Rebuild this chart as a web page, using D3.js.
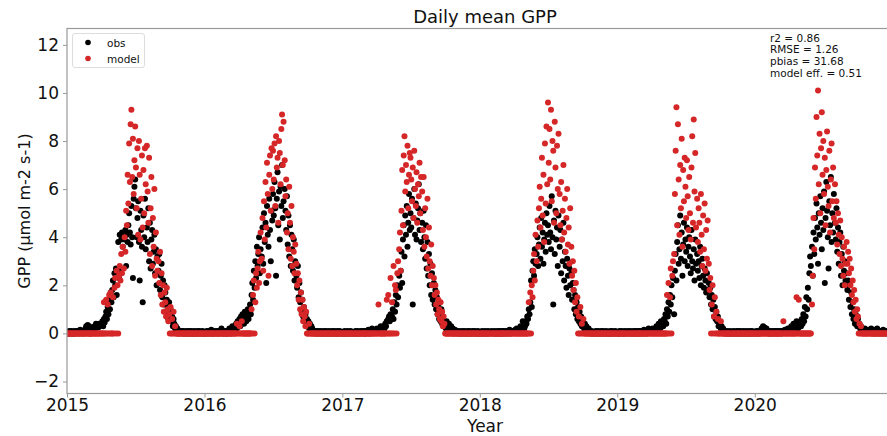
<!DOCTYPE html>
<html>
<head>
<meta charset="utf-8">
<title>Daily mean GPP</title>
<script src="https://d3js.org/d3.v7.min.js"></script>
<style>
  body { margin: 0; background: #fff; }
  svg { display: block; font-family: 'DejaVu Sans', sans-serif; }
</style>
</head>
<body>
<div id="chart"></div>
<script>
// each year: 12 month rows, values for days 1,3,5,...,29
const years = [2015, 2016, 2017, 2018, 2019, 2020];
const zeroMonth = [0,0,0,0,0,0,0,0,0,0,0,0,0,0,0];

const obs2015 = [
  [0,.05,0,.1,0,.05,.1,0,.05,0,.1,.05,0,.1,.05],
  [.1,0,.15,.1,.05,.1,0,.05,.1,.2,.3,.25,.35,.2,.3],
  [.1,.05,0,.1,.05,.2,.1,.3,.2,.4,.3,.35,.25,.4,.3],
  [.4,.35,.5,.3,.6,.45,.7,.9,.6,1.1,.8,1.4,1.0,1.7,1.3],
  [1.8,2.2,1.5,2.5,2.0,2.7,1.6,2.4,3.8,2.3,4.1,2.6,3.9,4.2,3.6],
  [4.0,3.9,4.3,2.8,4.1,3.8,4.5,5.0,4.2,3.7,5.3,4.0,2.3,5.6,6.1],
  [6.4,5.2,4.0,4.8,5.5,3.8,2.2,5.1,4.3,3.6,1.3,4.9,4.0,5.6,3.5],
  [4.4,3.8,5.2,3.0,4.6,2.7,3.9,4.3,2.9,3.4,4.1,2.5,3.5,2.0,3.2],
  [2.6,3.3,1.8,2.4,2.9,1.5,2.2,1.2,2.0,1.7,0.9,1.4,1.1,0.6,1.3],
  [.8,1.0,.5,.7,.3,.6,.4,.2,.3,.1,.2,.1,0,.1,.05],
  [.1,0,.05,.1,0,.05,0,.1,.05,0,.1,0,.05,.1,0],
  [0,.05,.1,0,.05,0,.1,.05,0,.1,.05,0,.05,.1,0]
];
const model2015 = [
  zeroMonth, zeroMonth, zeroMonth,
  [0,0,0,0,1.3,0,0,1.4,0,1.2,0,1.6,0,1.7,0],
  [0,1.5,0,1.9,2.3,0,2.6,2.0,0,2.4,2.8,2.2,3.3,2.5,3.6],
  [2.7,4.0,3.4,5.1,4.5,6.6,5.4,7.9,6.3,8.7,9.3,6.5,8.1,5.8,7.2],
  [8.6,6.9,5.2,7.7,4.1,8.0,6.6,3.9,5.6,7.4,4.4,6.8,5.0,7.7,6.2],
  [7.8,5.9,4.6,7.3,3.3,5.2,6.5,2.8,4.8,3.6,6.0,2.4,4.2,3.1,2.6],
  [3.0,2.1,3.4,1.6,2.5,1.2,2.0,0.9,1.7,1.3,0.7,1.9,1.0,0.5,0.8],
  [0,1.1,0,0.6,0,0.9,0,0.3,0,0,0,0,0,0,0],
  zeroMonth, zeroMonth
];

const obs2016 = [
  [0,.05,0,.1,.05,0,.1,.05,0,.15,.05,0,.1,0,.05],
  [.1,0,.05,.1,0,.05,.1,.2,.05,0,.1,.05,0,.1,.05],
  [0,.1,.05,.2,.1,0,.15,.3,.1,.2,.05,.3,.4,.2,.5],
  [.4,.6,.3,.7,.5,.8,.6,.4,.9,.7,.5,.8,1.0,.6,.9],
  [1.2,.8,1.6,2.1,1.4,2.6,1.9,3.0,2.3,3.6,2.8,3.3,4.0,2.5,3.5],
  [3.2,4.4,2.9,5.0,3.8,4.6,2.1,5.3,4.1,3.6,5.6,4.3,3.0,5.1,4.7],
  [5.8,4.9,6.3,5.2,2.4,5.6,6.7,4.5,5.9,3.9,6.1,5.3,7.0,4.8,5.5],
  [6.0,5.1,4.3,5.7,3.7,4.9,3.2,4.5,2.8,4.1,3.5,2.6,3.9,2.2,3.0],
  [2.4,1.9,2.8,1.5,2.1,1.3,1.7,0.9,1.4,0.7,1.1,0.5,0.8,0.4,0.6],
  [.3,.5,.2,.4,.1,.3,.2,.1,.05,.1,0,.1,.05,0,.1],
  [0,.05,.1,0,.05,0,.1,0,.05,.1,0,.05,0,.1,0],
  [.05,0,.1,0,.05,.1,0,.05,0,.1,0,.05,.1,0,.05]
];
const model2016 = [
  zeroMonth, zeroMonth,
  [0,0,0,0,0,0,0,0,0,0,0,0,0,0.4,0],
  [0,0.3,0,0,0.5,0,0,0,0,0,0,0,0,0,0],
  [0,0,1.0,0,1.6,2.2,0,1.3,2.5,1.9,2.7,3.4,2.1,3.0,4.2],
  [3.1,4.8,2.6,5.5,3.9,6.3,4.4,7.1,5.8,2.4,6.6,7.4,5.1,7.7,6.0],
  [7.6,6.4,7.9,5.3,8.2,6.9,7.3,4.6,8.0,7.5,6.2,8.5,9.1,7.0,8.8],
  [7.2,5.7,6.4,4.2,5.0,3.5,6.1,4.6,3.1,5.3,2.8,4.0,3.4,2.5,3.7],
  [2.9,2.0,2.5,1.4,2.2,1.0,1.7,0.8,1.4,0.5,1.1,0.7,0.3,0.9,0],
  [0,0,0.4,0,0,0,0,0,0,0,0,0,0,0,0],
  zeroMonth, zeroMonth
];

const obs2017 = [
  [0,.05,0,.1,0,.05,0,.1,.05,0,.05,.1,0,.05,0],
  [.05,0,.1,0,.05,.1,0,.05,0,.1,.05,0,.1,.05,0],
  [.1,.05,0,.1,.05,.15,.1,0,.1,.05,.2,.1,.05,.1,.15],
  [.1,.2,.05,.15,.1,.2,.3,.1,.2,.15,.3,.2,.4,.3,.5],
  [.5,.6,.7,.5,.8,.6,.7,1.0,.6,1.3,.9,1.6,1.2,2.0,1.5],
  [2.4,1.9,2.6,3.4,2.1,3.9,4.5,3.2,4.9,4.1,5.3,3.6,4.6,5.8,4.3],
  [5.0,4.4,5.6,1.2,4.8,6.0,4.1,5.4,3.9,4.7,5.2,6.2,4.3,5.0,3.8],
  [4.6,3.5,5.1,4.0,3.1,4.5,2.7,3.8,2.4,3.3,2.0,2.9,1.6,2.5,1.4],
  [2.1,1.2,1.8,1.0,1.5,.8,1.2,.6,.9,.5,1.0,.4,.7,.3,.5],
  [.4,.2,.5,.3,.1,.4,.2,.1,.3,.05,.2,.1,0,.15,.05],
  [.1,0,.05,.1,0,.05,0,.1,.05,0,.1,0,.05,0,.1],
  [0,.05,.1,0,.05,0,.1,.05,0,.1,.05,0,.05,.1,0]
];
const model2017 = [
  zeroMonth, zeroMonth, zeroMonth,
  [0,0,0,1.2,0,0,0,0,0,0,0,0,0,0,1.4],
  [0,1.6,0,0,2.3,0,1.3,0,2.8,0,2.0,1.8,0,2.5,3.0],
  [3.5,4.2,2.6,5.1,6.8,4.5,7.4,8.2,5.9,7.0,6.3,7.8,5.2,6.6,7.5],
  [7.3,6.4,5.5,6.9,4.8,7.6,6.0,5.3,6.7,4.6,6.2,5.7,7.1,5.0,6.5],
  [5.9,4.3,6.5,3.6,5.2,4.0,3.2,5.6,2.7,4.4,3.0,2.4,3.7,2.0,2.8],
  [2.3,1.6,2.0,1.2,1.7,0.8,1.4,1.0,0.6,1.3,0.5,0.9,0.3,0.7,0.4],
  zeroMonth, zeroMonth, zeroMonth
];

const obs2018 = [
  [0,.05,0,.1,.05,0,.05,.1,0,.05,0,.1,.05,0,.05],
  [.1,.05,0,.05,.1,0,.05,0,.1,.05,0,.1,0,.05,.1],
  [0,.05,.1,0,.05,.1,.05,0,.1,.05,.15,0,.1,.05,.1],
  [.1,.05,.15,.1,.2,.05,.1,.2,.15,.3,.1,.2,.5,.3,.2],
  [.3,.5,.4,.7,.6,1.0,.8,1.3,2.2,1.1,2.6,3.0,2.4,3.5,2.9],
  [3.3,4.0,2.8,3.7,4.4,3.1,4.8,3.6,4.2,2.9,3.9,4.6,3.4,5.0,4.1],
  [4.5,3.8,5.3,4.2,3.5,5.7,4.0,1.2,4.7,3.3,5.1,3.9,4.4,2.8,4.9],
  [3.6,4.3,2.5,3.9,3.0,4.6,2.2,3.4,2.8,1.9,3.1,2.4,1.6,2.7,2.0],
  [2.5,1.4,2.1,1.8,1.0,1.6,0.8,1.3,0.6,1.1,0.5,0.9,0.4,0.7,0.3],
  [.5,.3,.2,.4,.1,.3,.15,.1,.2,.05,.1,0,.1,.05,0],
  [.05,0,.1,0,.05,.1,0,.05,0,.1,0,.05,.1,0,.05],
  [0,.1,.05,0,.05,0,.1,0,.05,.1,0,.05,0,.1,.05]
];
const model2018 = [
  zeroMonth, zeroMonth, zeroMonth, zeroMonth,
  [0,0,0,0,0,1.3,0,1.7,0,2.0,1.5,2.6,3.3,2.2,4.1],
  [3.0,4.7,3.6,5.2,6.1,4.4,5.6,7.3,4.9,6.6,3.8,7.9,5.4,8.6,6.2],
  [9.6,7.1,8.5,6.4,9.3,5.5,8.0,7.6,4.6,8.8,6.9,5.0,7.8,6.0,8.3],
  [5.8,4.5,6.3,3.9,5.1,7.0,4.2,5.6,3.4,4.8,6.0,3.7,4.4,2.9,5.2],
  [3.6,2.4,3.0,1.8,2.6,1.3,2.1,0.9,1.5,0,0.7,0,1.1,0,0.4],
  [0,0.6,0,0,0,0,0,0,0,0,0,0,0,0,0],
  zeroMonth, zeroMonth
];

const obs2019 = [
  [0,.05,0,.1,0,.05,.1,0,.05,0,.1,.05,0,.05,.1],
  [0,.05,.1,0,.05,0,.1,.05,0,.1,0,.05,.1,0,.05],
  [.1,0,.05,.1,.05,0,.15,.05,.1,0,.05,.1,.2,.05,.1],
  [.15,.1,.2,.05,.15,.1,.2,.3,.1,.2,.4,.3,.2,.5,.3],
  [.4,.3,.6,.5,.8,.4,1.0,.7,1.3,.9,1.6,1.2,2.0,1.5,2.3],
  [0.8,2.6,3.3,2.2,3.8,4.5,2.9,3.5,4.9,3.1,4.2,2.4,3.7,4.6,3.0],
  [3.9,3.4,4.4,2.8,3.6,4.0,3.2,2.5,4.3,3.0,2.7,3.5,2.2,3.9,2.9],
  [3.3,2.6,3.0,2.3,3.6,2.0,2.8,3.1,2.4,1.9,2.7,2.2,1.7,2.5,1.8],
  [2.1,1.5,1.9,1.2,1.6,1.0,1.4,0.7,1.1,0.6,0.9,0.5,0.7,0.3,0.5],
  [.4,.2,.3,.1,.2,.05,.1,0,.05,.1,0,.05,0,.1,0],
  [.05,0,.1,0,.05,0,.1,.05,0,.1,0,.05,.1,0,.05],
  [0,.1,.05,0,.05,.1,0,.05,0,.1,0,.05,.1,0,.05]
];
const model2019 = [
  zeroMonth, zeroMonth, zeroMonth, zeroMonth,
  [0,0,0,0,0,0,1.6,0,2.1,0,1.5,2.7,0,2.4,3.0],
  [3.3,5.8,7.6,9.4,4.5,8.7,6.4,4.1,7.0,5.2,8.1,3.6,6.8,5.5,7.3],
  [6.1,4.8,7.2,5.7,4.3,6.5,5.0,3.9,6.9,8.2,4.6,8.9,5.9,7.5,4.4],
  [5.6,3.8,5.2,4.6,3.4,5.8,4.1,2.8,4.9,3.5,5.4,2.6,4.3,3.1,4.7],
  [2.9,1.8,2.3,0,1.2,2.0,0,0.7,1.5,0,0.9,0,0.6,0,0],
  [0,0.5,0,0,0,0,0,0,0,0,0,0,0,0,0],
  zeroMonth, zeroMonth
];

const obs2020 = [
  [0,.05,.1,0,.05,.1,0,.05,.1,.2,.05,.3,.1,.25,.05],
  [.2,.1,.05,0,.1,.05,0,.1,.05,0,.1,.05,.1,0,.05],
  [.1,.05,0,.1,.05,.1,0,.05,.1,.05,.15,.1,.05,.1,.2],
  [.1,.2,.15,.3,.1,.25,.4,.2,.3,.15,.5,.3,.2,.4,.3],
  [.5,.3,.6,.4,.8,.5,1.1,.7,1.5,1.0,1.9,1.4,2.5,3.2,2.8],
  [3.6,2.4,4.2,3.3,4.8,3.9,5.4,4.4,2.9,5.0,4.1,5.7,4.6,3.5,5.2],
  [4.3,5.9,2.1,4.8,6.3,5.1,4.0,2.7,5.5,4.5,6.5,3.8,5.0,4.2,5.8],
  [4.6,3.9,5.2,3.4,4.4,2.9,3.8,4.2,2.4,3.3,2.0,3.6,2.6,3.0,2.2],
  [2.5,1.8,2.2,1.4,2.0,1.1,1.7,0.8,1.3,0.6,1.0,0.4,0.8,0.5,0.3],
  [.6,.3,.4,.2,.3,.1,.2,.15,.1,.2,.05,.1,.15,.05,.1],
  [.1,.05,.2,.1,0,.15,.05,.1,0,.1,.2,.05,.1,0,.1],
  [.05,.1,0,.15,.05,.1,0,.05,.1,0,.05,.1,0,.05,0]
];
const model2020 = [
  zeroMonth, zeroMonth,
  [0,0,0,0,0,0,0,0,0.5,0,0,0,0,0,0],
  [0,0,0,0,0,0,0,0,0,0,1.5,0,0,1.4,0],
  zeroMonth,
  [1.2,2.4,4.8,3.5,6.9,5.6,9.0,7.4,10.1,6.2,8.3,5.0,7.7,9.2,6.6],
  [8.0,5.8,7.3,4.5,6.8,8.4,6.1,5.3,7.6,4.2,6.4,7.9,5.5,6.9,4.8],
  [6.2,4.6,5.5,3.7,5.0,4.1,3.3,4.7,2.8,4.0,3.1,2.4,3.6,2.0,2.9],
  [3.8,2.9,3.4,2.5,3.1,2.0,2.7,1.6,2.2,1.3,1.8,0.9,1.4,0.6,1.0],
  [0.7,0,0.4,0,0.3,0,0,0,0,0,0,0,0,0,0],
  zeroMonth, zeroMonth
];

const obsYears = [obs2015, obs2016, obs2017, obs2018, obs2019, obs2020];
const modelYears = [model2015, model2016, model2017, model2018, model2019, model2020];
const yTicks = [-2, 0, 2, 4, 6, 8, 10, 12];
const statLines = ["r2 = 0.86", "RMSE = 1.26", "pbias = 31.68", "model eff. = 0.51"];

function toPoints(byYear) {
  const pts = [];
  byYear.forEach((rows, yi) => {
    rows.forEach((row, m) => {
      row.forEach((v, k) => pts.push({ date: new Date(years[yi], m, 1 + 2 * k), v: v }));
    });
  });
  return pts;
}
const obsPts = toPoints(obsYears);
const modelPts = toPoints(modelYears);

const W = 887, H = 436;
const plotLeft = 67, plotTop = 28.5, plotBottom = 393.5;
const yearW = 137.6;

const svg = d3.select("#chart").append("svg")
  .attr("width", W).attr("height", H);

const x = d3.scaleTime()
  .domain([new Date(2015, 0, 1), new Date(2021, 0, 1)])
  .range([plotLeft, plotLeft + 6 * yearW]);
const y = d3.scaleLinear()
  .domain([-2.5, 12.68])
  .range([plotBottom, plotTop]);

svg.append("defs").append("clipPath").attr("id", "clip")
  .append("rect").attr("x", plotLeft).attr("y", plotTop)
  .attr("width", 6 * yearW).attr("height", plotBottom - plotTop);

const dots = svg.append("g").attr("clip-path", "url(#clip)");
dots.selectAll(".obs").data(obsPts).enter().append("circle")
  .attr("class", "obs")
  .attr("cx", d => x(d.date)).attr("cy", d => y(d.v))
  .attr("r", 3).attr("fill", "#000");
dots.selectAll(".model").data(modelPts).enter().append("circle")
  .attr("class", "model")
  .attr("cx", d => x(d.date)).attr("cy", d => y(d.v))
  .attr("r", 3).attr("fill", "#d62728");

// frame
svg.append("rect")
  .attr("x", plotLeft).attr("y", plotTop)
  .attr("width", 6 * yearW).attr("height", plotBottom - plotTop)
  .attr("fill", "none").attr("stroke", "#999").attr("stroke-width", 1.2);

const xAxis = d3.axisBottom(x)
  .tickValues(years.map(yr => new Date(yr, 0, 1)))
  .tickFormat(d3.timeFormat("%Y"))
  .tickSize(4).tickPadding(1.5);
const gx = svg.append("g").attr("transform", `translate(0,${plotBottom})`).call(xAxis);

const yAxis = d3.axisLeft(y).tickValues(yTicks).tickSize(4).tickPadding(4)
  .tickFormat(d => d < 0 ? "\u2212" + Math.abs(d) : d);
const gy = svg.append("g").attr("transform", `translate(${plotLeft},0)`).call(yAxis);

[gx, gy].forEach(g => {
  g.select(".domain").remove();
  g.selectAll(".tick line").attr("stroke", "#999");
  g.selectAll(".tick text").attr("fill", "#111")
    .style("font-size", "17px").style("font-family", "'DejaVu Sans', sans-serif");
});

svg.append("text")
  .attr("x", (plotLeft + W) / 2 + 8).attr("y", 23)
  .attr("text-anchor", "middle").attr("fill", "#111")
  .style("font-size", "18px")
  .text("Daily mean GPP");

svg.append("text")
  .attr("x", (plotLeft + W) / 2 + 8).attr("y", 432)
  .attr("text-anchor", "middle").attr("fill", "#111")
  .style("font-size", "17px")
  .text("Year");

svg.append("text")
  .attr("transform", "rotate(-90)")
  .attr("x", -(plotTop + plotBottom) / 2).attr("y", 30)
  .attr("text-anchor", "middle").attr("fill", "#111")
  .style("font-size", "16px")
  .text("GPP (\u00b5mol m-2 s-1)");

// legend
const lg = svg.append("g");
lg.append("rect")
  .attr("x", 72.5).attr("y", 33.5).attr("width", 72).attr("height", 34)
  .attr("rx", 2.5).attr("fill", "#fff").attr("fill-opacity", 0.8)
  .attr("stroke", "#ddd");
const legendItems = [{ label: "obs", color: "#000" }, { label: "model", color: "#d62728" }];
legendItems.forEach((it, i) => {
  lg.append("circle").attr("cx", 88).attr("cy", 42.5 + i * 16).attr("r", 2.8).attr("fill", it.color);
  lg.append("text").attr("x", 107).attr("y", 46.5 + i * 16)
    .attr("fill", "#111").style("font-size", "10.5px").text(it.label);
});

// stats block
statLines.forEach((s, i) => {
  svg.append("text")
    .attr("x", 770).attr("y", 41.5 + i * 11.7)
    .attr("fill", "#111").style("font-size", "10.5px")
    .text(s);
});
</script>
</body>
</html>
